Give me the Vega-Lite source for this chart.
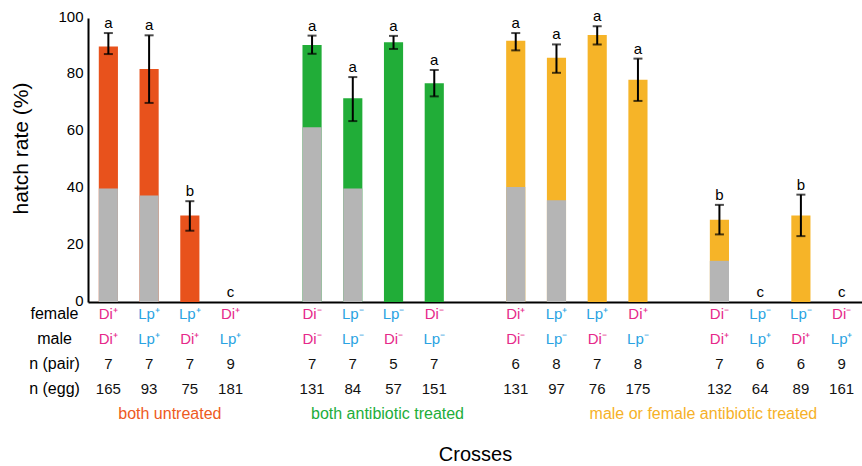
{
  "$schema": "https://vega.github.io/schema/vega-lite/v6.json",
  "padding": {"top": 9, "left": 10, "right": 0, "bottom": 0},
  "config": {"font": "Liberation Sans", "view": {"stroke": null}, "axis": {"labelColor": "black", "titleColor": "black"}},
  "datasets": {
    "crosses": [
      {"slot": "A1", "group": "A", "female": "Di⁺", "male": "Di⁺", "npair": "7", "negg": "165", "total": 90, "gray": 40, "lo": 87.3, "hi": 94.7, "letter": "a"},
      {"slot": "A2", "group": "A", "female": "Lp⁺", "male": "Lp⁺", "npair": "7", "negg": "93", "total": 82, "gray": 37.5, "lo": 70.1, "hi": 93.9, "letter": "a"},
      {"slot": "A3", "group": "A", "female": "Lp⁺", "male": "Di⁺", "npair": "7", "negg": "75", "total": 30.5, "gray": null, "lo": 25.1, "hi": 35.5, "letter": "b"},
      {"slot": "A4", "group": "A", "female": "Di⁺", "male": "Lp⁺", "npair": "9", "negg": "181", "total": 0, "gray": null, "lo": null, "hi": 0, "letter": "c"},
      {"slot": "B1", "group": "B", "female": "Di⁻", "male": "Di⁻", "npair": "7", "negg": "131", "total": 90.5, "gray": 61.5, "lo": 87.4, "hi": 93.8, "letter": "a"},
      {"slot": "B2", "group": "B", "female": "Lp⁻", "male": "Lp⁻", "npair": "7", "negg": "84", "total": 71.7, "gray": 40, "lo": 63.7, "hi": 79.2, "letter": "a"},
      {"slot": "B3", "group": "B", "female": "Lp⁻", "male": "Di⁻", "npair": "5", "negg": "57", "total": 91.5, "gray": null, "lo": 89.1, "hi": 93.7, "letter": "a"},
      {"slot": "B4", "group": "B", "female": "Di⁻", "male": "Lp⁻", "npair": "7", "negg": "151", "total": 77, "gray": null, "lo": 72.4, "hi": 81.7, "letter": "a"},
      {"slot": "C1", "group": "C", "female": "Di⁺", "male": "Di⁻", "npair": "6", "negg": "131", "total": 92, "gray": 40.5, "lo": 88.6, "hi": 94.7, "letter": "a"},
      {"slot": "C2", "group": "C", "female": "Lp⁺", "male": "Lp⁻", "npair": "8", "negg": "97", "total": 86, "gray": 35.8, "lo": 80.7, "hi": 90.7, "letter": "a"},
      {"slot": "C3", "group": "C", "female": "Lp⁺", "male": "Di⁻", "npair": "7", "negg": "76", "total": 94, "gray": null, "lo": 90.7, "hi": 97.1, "letter": "a"},
      {"slot": "C4", "group": "C", "female": "Di⁺", "male": "Lp⁻", "npair": "8", "negg": "175", "total": 78.3, "gray": null, "lo": 70.8, "hi": 85.7, "letter": "a"},
      {"slot": "D1", "group": "C", "female": "Di⁻", "male": "Di⁺", "npair": "7", "negg": "132", "total": 29, "gray": 14.5, "lo": 23.8, "hi": 34.2, "letter": "b"},
      {"slot": "D2", "group": "C", "female": "Lp⁻", "male": "Lp⁺", "npair": "6", "negg": "64", "total": 0, "gray": null, "lo": null, "hi": 0, "letter": "c"},
      {"slot": "D3", "group": "C", "female": "Lp⁻", "male": "Di⁺", "npair": "6", "negg": "89", "total": 30.5, "gray": null, "lo": 23.2, "hi": 37.8, "letter": "b"},
      {"slot": "D4", "group": "C", "female": "Di⁻", "male": "Lp⁺", "npair": "9", "negg": "161", "total": 0, "gray": null, "lo": null, "hi": 0, "letter": "c"}
    ],
    "groups": [
      {"slot": "A3", "label": "both untreated", "kind": "A"},
      {"slot": "B3", "label": "both antibiotic treated", "kind": "B"},
      {"slot": "D1", "label": "male or female antibiotic treated", "kind": "C"}
    ]
  },
  "resolve": {"scale": {"color": "independent"}},
  "spacing": -4,
  "vconcat": [
    {
      "width": 774,
      "height": 284,
      "data": {"name": "crosses"},
      "encoding": {
        "x": {
          "field": "slot", "type": "nominal",
          "scale": {"domain": ["A1","A2","A3","A4","s1","B1","B2","B3","B4","s2","C1","C2","C3","C4","s3","D1","D2","D3","D4"], "paddingInner": 0.53, "paddingOuter": 0.265},
          "axis": {"labels": false, "ticks": false, "title": null, "domainColor": "black", "domainWidth": 2}
        }
      },
      "layer": [
        {
          "mark": {"type": "bar"},
          "encoding": {
            "y": {"field": "total", "type": "quantitative", "scale": {"domain": [0, 100]},
              "axis": {"title": "hatch rate (%)", "values": [0,20,40,60,80,100], "ticks": false, "grid": false, "domainColor": "black", "domainWidth": 2, "labelFontSize": 15, "labelOffset": -2, "titleFontSize": 21, "titleFontWeight": "normal", "labelPadding": 5, "titlePadding": 26, "titleY": 130}},
            "color": {"field": "group", "type": "nominal", "scale": {"domain": ["A","B","C"], "range": ["#e8521c", "#21ad38", "#f6b428"]}, "legend": null}
          }
        },
        {
          "transform": [{"filter": "datum.gray != null"}],
          "mark": {"type": "bar", "color": "#b5b5b5"},
          "encoding": {"y": {"field": "gray", "type": "quantitative"}}
        },
        {
          "transform": [{"filter": "datum.total > 0"}],
          "mark": {"type": "rule", "color": "black", "strokeWidth": 2},
          "encoding": {"y": {"field": "lo", "type": "quantitative"}, "y2": {"field": "hi"}}
        },
        {
          "transform": [{"filter": "datum.total > 0"}],
          "mark": {"type": "tick", "color": "black", "thickness": 2, "size": 9},
          "encoding": {"y": {"field": "lo", "type": "quantitative"}}
        },
        {
          "transform": [{"filter": "datum.total > 0"}],
          "mark": {"type": "tick", "color": "black", "thickness": 2, "size": 9},
          "encoding": {"y": {"field": "hi", "type": "quantitative"}}
        },
        {
          "mark": {"type": "text", "baseline": "bottom", "dy": -2, "fontSize": 15, "color": "black"},
          "encoding": {"y": {"field": "hi", "type": "quantitative"}, "text": {"field": "letter"}}
        }
      ]
    },
    {
      "width": 774,
      "height": 111,
      "encoding": {
        "x": {
          "field": "slot", "type": "nominal",
          "scale": {"domain": ["A1","A2","A3","A4","s1","B1","B2","B3","B4","s2","C1","C2","C3","C4","s3","D1","D2","D3","D4"], "paddingInner": 0.53, "paddingOuter": 0.265},
          "axis": {"labels": false, "ticks": false, "domain": false, "title": "Crosses", "titleFontSize": 20, "titleFontWeight": "normal", "titlePadding": 25}
        }
      },
      "layer": [
        {
          "data": {"name": "crosses"},
          "transform": [
            {"fold": ["female", "male", "npair", "negg"], "as": ["row", "val"]},
            {"calculate": "indexof(datum.val, 'Di') == 0 ? 'Di' : (indexof(datum.val, 'Lp') == 0 ? 'Lp' : 'num')", "as": "kind"}
          ],
          "mark": {"type": "text", "fontSize": 15, "baseline": "middle"},
          "encoding": {
            "y": {"field": "row", "type": "nominal", "scale": {"domain": ["female","male","npair","negg","group"], "padding": 0.22},
              "axis": {"title": null, "domain": false, "ticks": false, "tickSize": 0, "labelAlign": "center", "labelPadding": 34, "labelFontSize": 16,
                "labelExpr": "datum.value == 'npair' ? 'n (pair)' : (datum.value == 'negg' ? 'n (egg)' : (datum.value == 'group' ? '' : datum.value))"}},
            "text": {"field": "val"},
            "color": {"field": "kind", "type": "nominal", "scale": {"domain": ["Di","Lp","num","A","B","C"], "range": ["#e6288a", "#2aa3e2", "#111111", "#ee5a22", "#22ad3a", "#f6b128"]}, "legend": null}
          }
        },
        {
          "data": {"name": "groups"},
          "transform": [{"filter": "datum.kind == 'A'"}],
          "mark": {"type": "text", "fontSize": 16, "baseline": "middle", "align": "center", "dx": -20},
          "encoding": {
            "x": {"field": "slot", "type": "nominal"},
            "y": {"datum": "group"},
            "text": {"field": "label"},
            "color": {"field": "kind", "type": "nominal"}
          }
        },
        {
          "data": {"name": "groups"},
          "transform": [{"filter": "datum.kind == 'B'"}],
          "mark": {"type": "text", "fontSize": 16, "baseline": "middle", "align": "center", "dx": -6},
          "encoding": {
            "x": {"field": "slot", "type": "nominal"},
            "y": {"datum": "group"},
            "text": {"field": "label"},
            "color": {"field": "kind", "type": "nominal"}
          }
        },
        {
          "data": {"name": "groups"},
          "transform": [{"filter": "datum.kind == 'C'"}],
          "mark": {"type": "text", "fontSize": 16, "baseline": "middle", "align": "center", "dx": -16},
          "encoding": {
            "x": {"field": "slot", "type": "nominal"},
            "y": {"datum": "group"},
            "text": {"field": "label"},
            "color": {"field": "kind", "type": "nominal"}
          }
        }
      ]
    }
  ]
}
